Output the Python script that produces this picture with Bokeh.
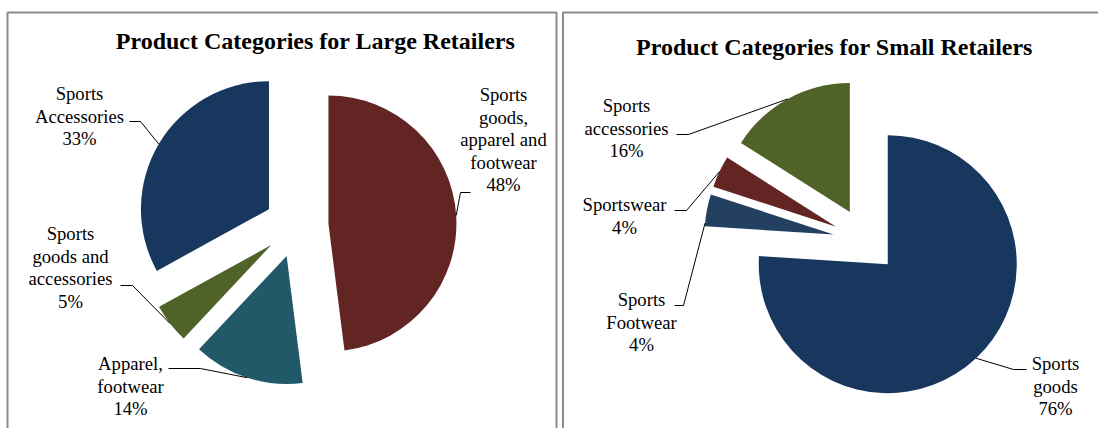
import math
from bokeh.plotting import figure
from bokeh.models import Range1d, ColumnDataSource
from bokeh.core.properties import value
from bokeh.embed import file_html
from bokeh.resources import INLINE

# ---------------- data ----------------
large_title = "Product Categories for Large Retailers"
large_labels = ["Sports goods, apparel and footwear", "Apparel, footwear",
                "Sports goods and accessories", "Sports Accessories"]
large_label_lines = [["Sports", "goods,", "apparel and", "footwear"],
                     ["Apparel,", "footwear"],
                     ["Sports", "goods and", "accessories"],
                     ["Sports", "Accessories"]]
large_values = [48, 14, 5, 33]
large_colors = ["#632523", "#215968", "#4F6228", "#17375E"]

small_title = "Product Categories for Small Retailers"
small_labels = ["Sports goods", "Sports Footwear", "Sportswear", "Sports accessories"]
small_label_lines = [["Sports", "goods"],
                     ["Sports", "Footwear"],
                     ["Sportswear"],
                     ["Sports", "accessories"]]
small_values = [76, 4, 4, 16]
small_colors = ["#17375E", "#244061", "#632523", "#4F6228"]

# ---------------- layout (page pixel positions) ----------------
W, H = 1098, 428
FONT = "Liberation Serif"
LINE_H = 22.6


def X(px):
    return px


def Y(py):
    return H - py


p = figure(width=W, height=H, x_range=Range1d(0, W), y_range=Range1d(0, H),
           x_axis_type=None, y_axis_type=None, output_backend="svg",
           toolbar_location=None, min_border=0, outline_line_color=None,
           background_fill_color="white", border_fill_color="white")
p.grid.visible = False

# panel borders
border_xs = [[X(7), X(7), X(556), X(556)], [X(562.5), X(562.5), X(1110)]]
border_ys = [[Y(440), Y(12), Y(12), Y(440)], [Y(440), Y(12), Y(12)]]
p.multi_line(border_xs, border_ys, line_color="#8C8C8C", line_width=2)


def draw_pie(values, colors, label_lines, center, radius, explode,
             label_pos, elbows, leader_fracs, title, title_pos):
    cx, cy = X(center[0]), Y(center[1])
    total = float(sum(values))
    xs, ys, starts, ends = [], [], [], []
    cum = 0.0
    apexes = []
    for i, v in enumerate(values):
        a0 = cum / total * 360.0
        a1 = (cum + v) / total * 360.0
        cum += v
        mid = math.radians((a0 + a1) / 2.0)
        ax = cx + explode * math.sin(mid)
        ay = cy + explode * math.cos(mid)
        xs.append(ax)
        ys.append(ay)
        starts.append(math.radians(90.0 - a1))
        ends.append(math.radians(90.0 - a0))
        t = math.radians(a0 + (a1 - a0) * leader_fracs[i])
        apexes.append((ax + radius * math.sin(t), ay + radius * math.cos(t)))
    src = ColumnDataSource(dict(x=xs, y=ys, s=starts, e=ends, c=colors))
    p.wedge(x="x", y="y", radius=radius, start_angle="s", end_angle="e",
            fill_color="c", line_color=None, source=src)

    # leaders
    lxs, lys = [], []
    for i in range(len(values)):
        (ex, ey), (tx, ty) = elbows[i]
        lxs.append([apexes[i][0], X(ex), X(tx)])
        lys.append([apexes[i][1], Y(ey), Y(ty)])
    p.multi_line(lxs, lys, line_color="black", line_width=1)

    # labels
    tx_, ty_, tt_ = [], [], []
    for i, v in enumerate(values):
        lines = label_lines[i] + ["%d%%" % v]
        px0, py0 = label_pos[i]
        for k, ln in enumerate(lines):
            tx_.append(X(px0))
            ty_.append(Y(py0 + k * LINE_H))
            tt_.append(ln)
    p.text(x=tx_, y=ty_, text=tt_, text_font=value(FONT), text_font_size="14pt",
           text_align="center", text_baseline="middle", text_color="black")

    p.text(x=[X(title_pos[0])], y=[Y(title_pos[1])], text=[title],
           text_font=value(FONT), text_font_size="18pt", text_font_style="bold",
           text_align="center", text_baseline="middle", text_color="black")


draw_pie(large_values, large_colors, large_label_lines,
         center=(296, 225), radius=128, explode=32,
         label_pos=[(503, 94), (130, 363), (70, 233), (79, 93)],
         elbows=[((460, 192), (470, 192)), ((200, 368), (168, 368)),
                 ((132, 285), (120, 285)), ((140, 121), (129, 121))],
         leader_fracs=[0.5, 0.5, 0.5, 0.5],
         title=large_title, title_pos=(315, 40))

draw_pie(small_values, small_colors, small_label_lines,
         center=(865, 240), radius=129, explode=32.5,
         label_pos=[(1055, 363), (641, 299), (624, 204), (626, 105)],
         elbows=[((1013, 369), (1026, 369)), ((683, 305), (674, 305)),
                 ((686, 210), (674, 210)), ((688, 134), (676, 134))],
         leader_fracs=[0.5, 0.1, 0.5, 0.5],
         title=small_title, title_pos=(834, 46))

open("out.html", "w").write(file_html(p, INLINE))
